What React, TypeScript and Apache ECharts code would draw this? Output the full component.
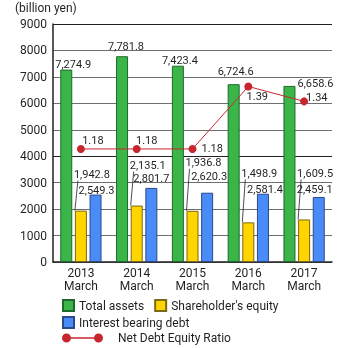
import React, { useEffect, useRef } from "react";
import * as echarts from "echarts";

const categories = ["2013\nMarch", "2014\nMarch", "2015\nMarch", "2016\nMarch", "2017\nMarch"];
const totalAssets = [7274.9, 7781.8, 7423.4, 6724.6, 6658.6];
const shareholdersEquity = [1942.8, 2135.1, 1936.8, 1498.9, 1609.5];
const interestBearingDebt = [2549.3, 2801.7, 2620.3, 2581.4, 2459.1];
const netDebtEquityRatio = [1.18, 1.18, 1.18, 1.39, 1.34];

// label placement (styling only)
const greenLabelOffsets = [[7, 0], [4, -4], [2, 0], [2, -7], [26, 3]];
const blueLabelOffsets = [[1, 1], [0, -4], [2, -11], [2, 1], [-4, -2]];
const yellowLabelRise = [36, 40, 48, 49, 46];
const ratioLabelCfg = [
  { position: "top", offset: [12, 1] },
  { position: "top", offset: [10, 1] },
  { position: "right", offset: [5, 0] },
  { position: "bottom", offset: [9, 1] },
  { position: "right", offset: [-2, -4] },
];

const TEXT = "#231f20";
const FONT = "Roboto";
const fmt = (v: number) =>
  v.toLocaleString("en-US", { minimumFractionDigits: 1, maximumFractionDigits: 1 });

const lineIcon =
  "path://M0,4.5A4.5,4.5,0,1,1,9,4.5A4.5,4.5,0,1,1,0,4.5Z M32,4.5A4.5,4.5,0,1,1,41,4.5A4.5,4.5,0,1,1,32,4.5Z M4.5,3.7L36.5,3.7L36.5,5.3L4.5,5.3Z";

export default function App() {
  const ref = useRef<HTMLDivElement>(null);
  useEffect(() => {
    if (!ref.current) return;
    const chart = echarts.init(ref.current, undefined, { renderer: "svg" });
    const gray = "#6e6e6e";
    chart.setOption({
      animation: false,
      textStyle: { fontFamily: FONT, color: TEXT },
      graphic: [
        {
          type: "text",
          left: 15,
          top: 2,
          style: { text: "(billion yen)", fontSize: 12, fontFamily: FONT, fill: TEXT },
        },
      ],
      legend: [
        {
          data: ["Total assets", "Shareholder's equity"],
          left: 62,
          top: 299,
          padding: 0,
          itemWidth: 11,
          itemHeight: 11,
          itemGap: 10,
          textStyle: { fontSize: 12, fontFamily: FONT, color: TEXT },
          icon: "rect",
        },
        {
          data: ["Interest bearing debt"],
          left: 62,
          top: 316,
          padding: 0,
          itemWidth: 11,
          itemHeight: 11,
          textStyle: { fontSize: 12, fontFamily: FONT, color: TEXT },
          icon: "rect",
        },
        {
          data: [{ name: "Net Debt Equity Ratio", icon: lineIcon }],
          left: 62,
          top: 332,
          padding: 0,
          itemWidth: 41,
          itemHeight: 9,
          textStyle: { fontSize: 12, fontFamily: FONT, color: TEXT, padding: [0, 0, 0, 10] },
        },
      ],
      grid: { left: 53, right: 11, top: 24, bottom: 86 },
      xAxis: {
        type: "category",
        data: categories,
        axisLine: { lineStyle: { color: TEXT, width: 1.5 } },
        axisTick: { show: false },
        axisLabel: { fontSize: 12, lineHeight: 13, margin: 4, color: TEXT, fontFamily: FONT },
      },
      yAxis: [
        {
          type: "value",
          min: 0,
          max: 9000,
          interval: 1000,
          axisLine: { show: true, lineStyle: { color: TEXT, width: 1.5 } },
          axisTick: { show: false },
          axisLabel: {
            fontSize: 12,
            margin: 6,
            color: TEXT,
            fontFamily: FONT,
            formatter: (v: number) => String(v),
          },
          splitLine: {
            lineStyle: {
              color: [gray, gray, gray, gray, TEXT, gray, gray, gray, gray, TEXT],
              width: 1.2,
            },
          },
        },
        { type: "value", min: 0.8, max: 1.6, show: false, splitLine: { show: false } },
      ],
      series: [
        {
          name: "Total assets",
          type: "bar",
          barWidth: 12,
          barGap: "22%",
          itemStyle: { color: "#3bb54a", borderColor: "#1d6b2a", borderWidth: 1 },
          label: {
            show: true,
            position: "top",
            distance: 0,
            fontSize: 11,
            fontFamily: FONT,
            color: TEXT,
            formatter: (p: any) => fmt(p.value),
          },
          data: totalAssets.map((v, i) => ({ value: v, label: { offset: greenLabelOffsets[i] } })),
        },
        {
          name: "Shareholder's equity",
          type: "bar",
          barWidth: 12,
          barGap: "22%",
          itemStyle: { color: "#ffd500", borderColor: "#7a6a10", borderWidth: 1 },
          data: shareholdersEquity,
        },
        {
          name: "Interest bearing debt",
          type: "bar",
          barWidth: 12,
          barGap: "22%",
          itemStyle: { color: "#4a8cf7", borderColor: "#2b4a8a", borderWidth: 1 },
          label: {
            show: true,
            position: "top",
            distance: 0,
            fontSize: 11,
            fontFamily: FONT,
            color: TEXT,
            formatter: (p: any) => fmt(p.value),
          },
          data: interestBearingDebt.map((v, i) => ({ value: v, label: { offset: blueLabelOffsets[i] } })),
        },
        {
          name: "Shareholder's equity labels",
          type: "custom",
          coordinateSystem: "cartesian2d",
          z: 5,
          data: shareholdersEquity.map((v, i) => [i, v]),
          encode: { x: 0, y: 1 },
          renderItem: (params: any, api: any) => {
            const i = api.value(0);
            const v = api.value(1);
            const [cx, cy] = api.coord([i, v]);
            const left = cx - 6;
            const ty = cy - yellowLabelRise[i];
            return {
              type: "group",
              children: [
                {
                  type: "line",
                  shape: { x1: left, y1: cy, x2: left + 3, y2: ty + 6 },
                  style: { stroke: TEXT, lineWidth: 0.8 },
                },
                {
                  type: "text",
                  x: left - 1,
                  y: ty,
                  style: {
                    text: fmt(v),
                    fill: TEXT,
                    fontSize: 11,
                    fontFamily: FONT,
                    align: "left",
                    verticalAlign: "middle",
                  },
                },
              ],
            };
          },
        },
        {
          name: "Net Debt Equity Ratio",
          type: "line",
          yAxisIndex: 1,
          z: 6,
          symbol: "circle",
          symbolSize: 8,
          itemStyle: { color: "#c8262e" },
          lineStyle: { color: "#c8262e", width: 1 },
          label: {
            show: true,
            distance: 0,
            fontSize: 11,
            fontFamily: FONT,
            color: TEXT,
            formatter: (p: any) => p.value.toFixed(2),
          },
          data: netDebtEquityRatio.map((v, i) => ({ value: v, label: ratioLabelCfg[i] })),
        },
      ],
    });
    return () => chart.dispose();
  }, []);
  return (
    <div
      ref={ref}
      style={{ position: "fixed", left: 0, top: 0, width: 343, height: 348 }}
    />
  );
}
